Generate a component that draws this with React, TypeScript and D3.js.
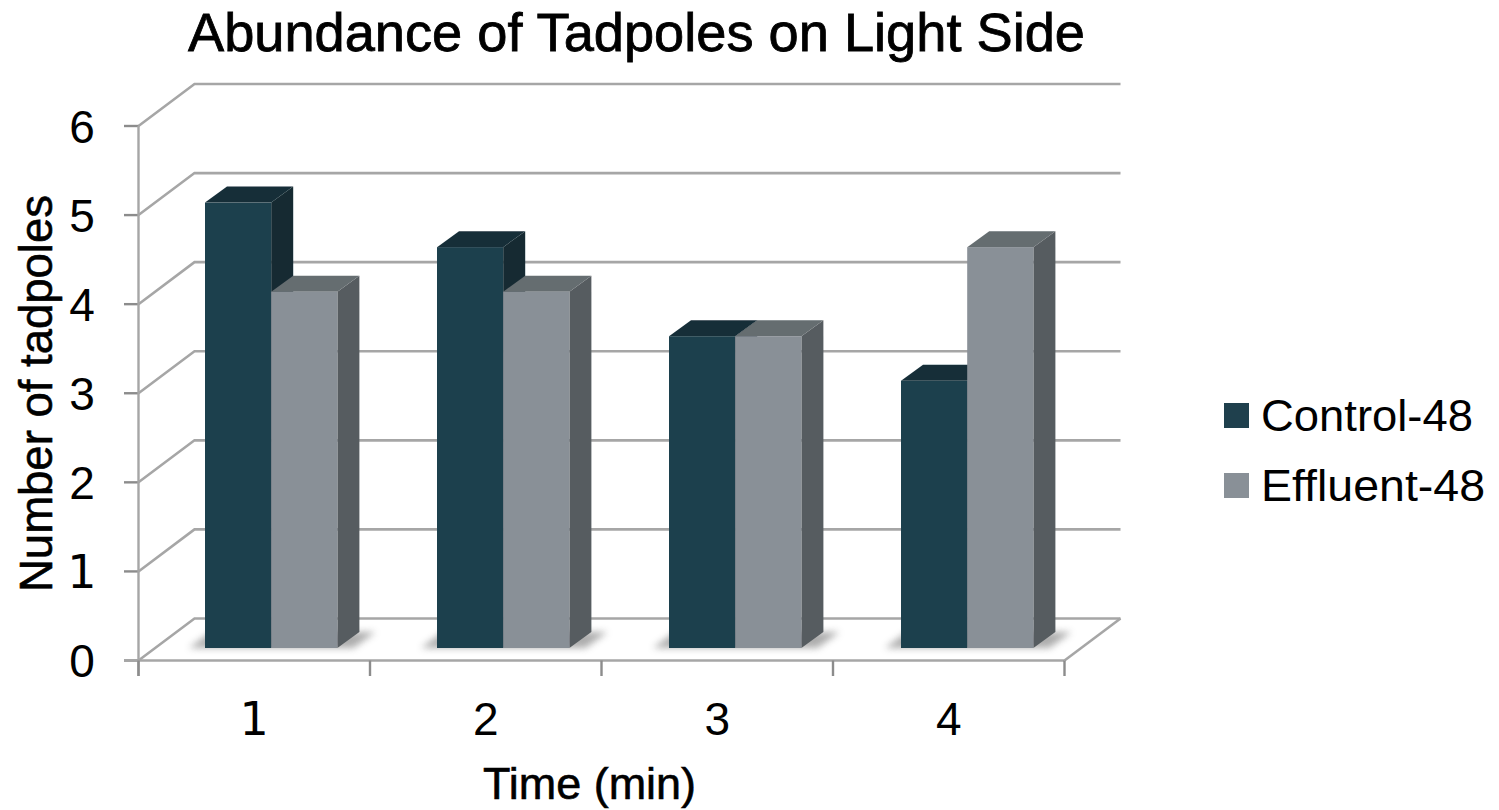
import React from "react";
import * as d3 from "d3";

const titleText = "Abundance of Tadpoles on Light Side";
const xTitleText = "Time (min)";
const yTitleText = "Number of tadpoles";
const categories = ["1", "2", "3", "4"];
const seriesNames = ["Control-48", "Effluent-48"];
const legendWidths = [212, 224];
const control48 = [5, 4.5, 3.5, 3];
const effluent48 = [4, 4, 3.5, 4.5];
const yTicks = [0, 1, 2, 3, 4, 5, 6];

const FONT = "'Liberation Sans', sans-serif";
const GRID = "#a6a6a6";
const AXIS = "#8c8c8c";
const palettes = [
  { front: "#1f404d", top: "#172f39", side: "#162b33" },
  { front: "#899097", top: "#656d70", side: "#565c60" },
];
const digitFont = (d: string | number) => (String(d) === "1" ? "'DejaVu Sans', sans-serif" : FONT);

export default function App() {
  const x = d3.scaleBand<string>().domain(categories).range([138.5, 1064.5]);
  const y = d3.scaleLinear().domain([0, 6]).range([660.5, 126]);
  const barX = d3.scalePoint<string>().domain(categories).range([205, 901]);
  const dxWall = 56;
  const dyWall = -42;
  const dxBar = 22;
  const dyBar = -16;
  const barW = 66.2;
  const barBase = 648;
  const unit = y(0) - y(1);
  const barY = (v: number) => barBase - v * unit;
  const line = d3.line();
  const step = x.bandwidth();

  return (
    <svg width={1499} height={810} style={{ position: "absolute", left: 0, top: 0, background: "#fff" }} fontFamily={FONT}>
      <defs>
        <filter id="blur" x="-30%" y="-60%" width="160%" height="220%">
          <feGaussianBlur stdDeviation="3.5" />
        </filter>
        <filter id="soft" x="-5%" y="-5%" width="110%" height="110%">
          <feGaussianBlur stdDeviation="0.6" />
        </filter>
      </defs>

      <g filter="url(#soft)">
        {yTicks.map((t) => (
          <g key={t}>
            <path d={line([[138.5, y(t)], [138.5 + dxWall, y(t) + dyWall], [138.5 + dxWall + 926, y(t) + dyWall]])!} fill="none" stroke={GRID} strokeWidth={2.6} />
            <line x1={124} x2={138.5} y1={y(t)} y2={y(t)} stroke={AXIS} strokeWidth={2.4} />
          </g>
        ))}
        <line x1={138.5} x2={138.5} y1={y(6)} y2={676} stroke={GRID} strokeWidth={2.4} />
        <line x1={124} x2={1064.5} y1={y(0)} y2={y(0)} stroke={GRID} strokeWidth={2.6} />
        <line x1={1064.5} y1={y(0)} x2={1064.5 + dxWall} y2={y(0) + dyWall} stroke={GRID} strokeWidth={2.6} />
        {[...categories.map((c) => x(c)!), 1064.5].map((p) => (
          <line key={p} x1={p} x2={p} y1={y(0)} y2={676} stroke={AXIS} strokeWidth={2.4} />
        ))}
      </g>

      {categories.map((c) => {
        const left = barX(c)!;
        const right = left + 2 * barW;
        return (
          <path
            key={c}
            d={line([[left - 16, barBase], [left + 6, barBase + dyBar], [right + dxBar + 16, barBase + dyBar], [right + 16, barBase]])! + "Z"}
            fill="#8a8a8a"
            opacity={0.7}
            filter="url(#blur)"
          />
        );
      })}

      {categories.map((c, i) => {
        const left = barX(c)!;
        return [control48[i], effluent48[i]].map((v, s) => {
          const bx = left + s * barW;
          const top = barY(v);
          const p = palettes[s];
          return (
            <g key={`${c}-${s}`} filter="url(#soft)">
              <path d={line([[bx + barW, top], [bx + barW + dxBar, top + dyBar], [bx + barW + dxBar, barBase + dyBar], [bx + barW, barBase]])! + "Z"} fill={p.side} />
              <path d={line([[bx, top], [bx + dxBar, top + dyBar], [bx + barW + dxBar, top + dyBar], [bx + barW, top]])! + "Z"} fill={p.top} />
              <rect x={bx} y={top} width={barW} height={barBase - top} fill={p.front} />
            </g>
          );
        });
      })}

      <text x={188} y={51} fontSize={54} textLength={897} lengthAdjust="spacingAndGlyphs" fill="#000" stroke="#000" strokeWidth={0.8}>{titleText}</text>
      {yTicks.map((t) => (
        <text key={t} x={82} y={y(t) + 16.5} textAnchor="middle" fontSize={46} fontFamily={digitFont(t)} fill="#000">{t}</text>
      ))}
      {categories.map((c) => (
        <text key={c} x={x(c)! + step / 2} y={735} textAnchor="middle" fontSize={46} fontFamily={digitFont(c)} fill="#000">{c}</text>
      ))}
      <text x={483} y={799} fontSize={44} textLength={213} lengthAdjust="spacingAndGlyphs" fill="#000" stroke="#000" strokeWidth={0.6}>{xTitleText}</text>
      <text transform="translate(52,592) rotate(-90)" fontSize={46} textLength={397} lengthAdjust="spacingAndGlyphs" fill="#000" stroke="#000" strokeWidth={0.6}>{yTitleText}</text>

      {seriesNames.map((n, i) => (
        <g key={n}>
          <rect x={1224} y={403 + i * 70} width={25} height={25} fill={palettes[i].front} />
          <text x={1261} y={431 + i * 70} fontSize={45} textLength={legendWidths[i]} lengthAdjust="spacingAndGlyphs" fill="#000">{n}</text>
        </g>
      ))}
    </svg>
  );
}
